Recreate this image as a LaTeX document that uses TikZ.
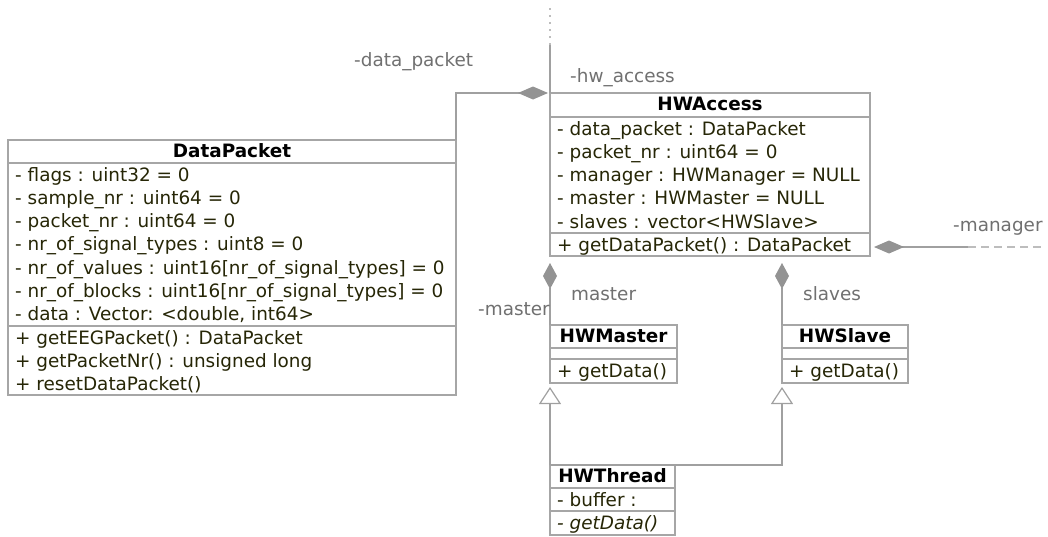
\documentclass[tikz,border=0pt]{standalone}
\usepackage{fontspec}
\setmainfont{DejaVu Sans}
\usetikzlibrary{arrows.meta,calc}

\definecolor{boxedge}{HTML}{A6A6A6}
\definecolor{wire}{HTML}{A0A0A0}
\definecolor{wirefade}{HTML}{BDBDBD}
\definecolor{diamondfill}{HTML}{939393}
\definecolor{rolegray}{HTML}{707070}
\definecolor{membertext}{RGB}{38,38,6}

% a member row: #1 class node, #2 name prefix, #3 offset of the first row, #4 list of rows
\newcommand{\memberrows}[4]{%
  \foreach \txt [count=\i] in {#4} {%
    \node[rowtext] (#1-#2\i) at ($(#1.north west)+(7,{#3+23.25*(\i-1)+18})$) {\txt};
  }%
}
% a compartment separator at offset #2 below the top of class #1
\newcommand{\compline}[2]{%
  \draw[boxline] ($(#1.north west)+(0,#2)$) -- ($(#1.north east)+(0,#2)$);%
}

\begin{document}
\begin{tikzpicture}[x=1pt,y=-1pt,
  classbox/.style={draw=boxedge, line width=1.2pt, fill=white, anchor=north west,
    inner sep=0pt, outer sep=0pt},
  boxline/.style={draw=boxedge, line width=1.2pt},
  titletext/.style={anchor=base, inner sep=0pt, font=\fontsize{18.4}{22}\selectfont\bfseries, text=black},
  rowtext/.style={anchor=base west, inner sep=0pt, font=\fontsize{18.4}{22}\selectfont, text=membertext},
  role/.style={anchor=base west, inner sep=0pt, font=\fontsize{18.4}{22}\selectfont, text=rolegray},
  assoc/.style={draw=wire, line width=1.3pt},
  owner/.style={-{Diamond[length=30pt,width=13pt,fill=diamondfill,color=diamondfill]}},
  ownerv/.style={-{Diamond[length=26pt,width=14pt,fill=diamondfill,color=diamondfill]}},
  generalize/.style={-{Triangle[open,length=17pt,width=22pt,color=wire,line width=1.2pt]}},
]
\useasboundingbox (0,0) rectangle (1048,536);

% ---- classes ----
\node[classbox, minimum width=448pt, minimum height=255pt] (dp) at (8,140) {};
\node[classbox, minimum width=320pt, minimum height=163pt] (hwa) at (550,93) {};
\node[classbox, minimum width=127pt, minimum height=58pt] (hwm) at (550,325) {};
\node[classbox, minimum width=126pt, minimum height=58pt] (hws) at (782,325) {};
\node[classbox, minimum width=125pt, minimum height=70pt] (hwt) at (550,465) {};

% DataPacket
\node[titletext] (dp-title) at ($(dp.north)+(0,17)$) {DataPacket};
\compline{dp}{23}
\compline{dp}{186}
\memberrows{dp}{a}{23}{{- flags : uint32 = 0},
  {- sample\_nr : uint64 = 0},
  {- packet\_nr : uint64 = 0},
  {- nr\_of\_signal\_types : uint8 = 0},
  {- nr\_of\_values : uint16[nr\_of\_signal\_types] = 0},
  {- nr\_of\_blocks : uint16[nr\_of\_signal\_types] = 0},
  {- data : Vector: <double, int64>}}
\memberrows{dp}{m}{186}{{+ getEEGPacket() : DataPacket},
  {+ getPacketNr() : unsigned long},
  {+ resetDataPacket()}}

% HWAccess
\node[titletext] (hwa-title) at ($(hwa.north)+(0,17)$) {HWAccess};
\compline{hwa}{24}
\compline{hwa}{140}
\memberrows{hwa}{a}{24}{{- data\_packet : DataPacket},
  {- packet\_nr : uint64 = 0},
  {- manager : HWManager = NULL},
  {- master : HWMaster = NULL},
  {- slaves : vector<HWSlave>}}
\memberrows{hwa}{m}{140}{{+ getDataPacket() : DataPacket}}

% HWMaster
\node[titletext] (hwm-title) at ($(hwm.north)+(0,17.5)$) {HWMaster};
\compline{hwm}{23}
\compline{hwm}{34}
\memberrows{hwm}{m}{34}{{+ getData()}}

% HWSlave
\node[titletext] (hws-title) at ($(hws.north)+(0,17.5)$) {HWSlave};
\compline{hws}{23}
\compline{hws}{34}
\memberrows{hws}{m}{34}{{+ getData()}}

% HWThread
\node[titletext] (hwt-title) at ($(hwt.north)+(0,17.5)$) {HWThread};
\compline{hwt}{23}
\compline{hwt}{46}
\memberrows{hwt}{a}{23}{{- buffer :}}
\memberrows{hwt}{m}{46}{{\itshape - getData()}}

% ---- associations ----
\draw[assoc, owner, shorten >=2pt] (dp.north east) |- (hwa.north west);

\coordinate (hwup) at (550,45);
\coordinate (hwtop) at (550,8);
\draw[assoc] (hwa.north west) -- (hwup);
\draw[draw=wirefade, line width=1.2pt, dash pattern=on 2pt off 5pt] (hwup) -- (hwtop);

\coordinate (mgrmid) at (968,247);
\coordinate (mgrend) at (1042,247);
\draw[assoc, owner, shorten >=4pt] (mgrmid) -- (mgrmid -| hwa.east);
\draw[draw=wirefade, line width=1.2pt, dash pattern=on 8pt off 5pt] (mgrmid) -- (mgrend);

\draw[assoc, ownerv, shorten >=7pt] (hwm.north west) -- (hwm.north west |- hwa.south);
\draw[assoc, ownerv, shorten >=7pt] (hws.north west) -- (hws.north west |- hwa.south);

% ---- generalizations ----
\draw[assoc, generalize, shorten >=4pt] (hwt.north west) -- (hwm.south west);
\draw[assoc, generalize, shorten >=4pt] (hwt.north west) -| (hws.south west);

% ---- role names ----
\node[role] (r-dp) at (354,66) {-data\_packet};
\node[role] (r-hw) at (570,82) {-hw\_access};
\node[role] (r-mgr) at (953,231) {-manager};
\node[role] (r-ms) at (571,300) {master};
\node[role] (r-sl) at (803,300) {slaves};
\node[role] (r-mm) at (478,315) {-master};
\end{tikzpicture}
\end{document}
